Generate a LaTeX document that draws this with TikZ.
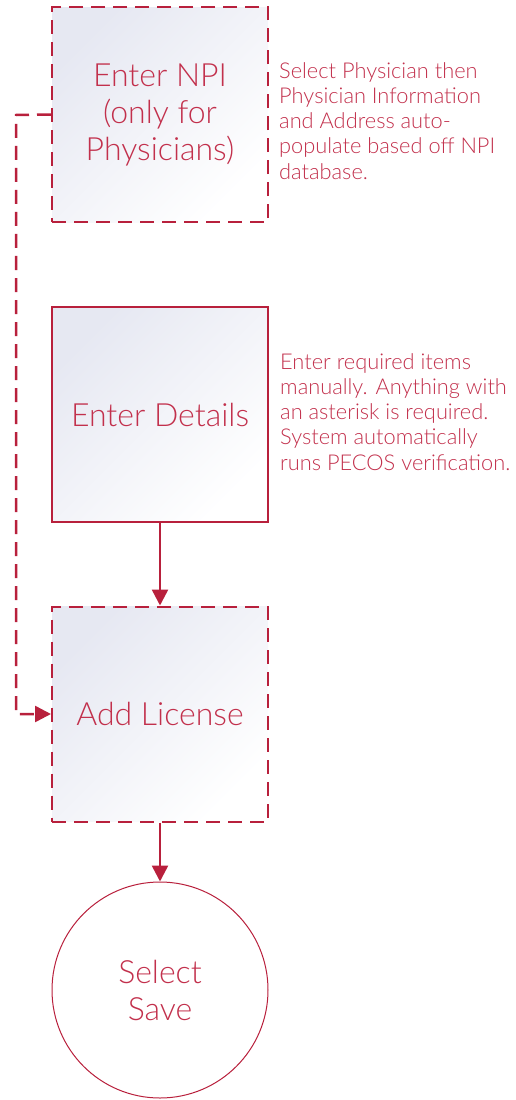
\documentclass[tikz,border=0pt]{standalone}
\usepackage{fontspec}
\setmainfont{Lato}[UprightFont=* Light]
\usetikzlibrary{arrows.meta,positioning}
\definecolor{crim}{HTML}{B8203C}
\definecolor{txt}{HTML}{C2304C}
\definecolor{lav}{HTML}{E6E8F2}
\tikzset{
  x=1pt,y=-1pt,
  stepbox/.style={draw=crim,line width=2pt,minimum width=216pt,minimum height=215pt,
    shading=axis,left color=lav,middle color=lav!25!white,right color=white,shading angle=45,
    text=txt,font=\fontsize{32}{37}\selectfont,align=center,inner sep=0pt},
  dashbox/.style={stepbox,dash pattern=on 14pt off 8pt},
  note/.style={text=txt,font=\fontsize{21.8}{25.3}\selectfont,align=left,anchor=north west,inner sep=0pt},
  conn/.style={draw=crim,line width=2.5pt,-{Triangle[length=16pt,width=16pt]}},
}
\begin{document}
\begin{tikzpicture}
\useasboundingbox (0,0) rectangle (516,1100);
\node[dashbox] (npi) at (160,114.5) {Enter NPI\\(only for\\Physicians)};
\node[stepbox] (det) at (160,414.5) {Enter Details};
\node[dashbox] (lic) at (160,714) {Add License};
\node[circle,draw=crim,line width=1pt,minimum size=216pt,inner sep=0pt,text=txt,
  font=\fontsize{32}{37}\selectfont,align=center] (save) at (160,990) {Select\\Save};
\node[note] (n1) at (279,62) {Select Physician then\\Physician Information\\and Address auto-\\populate based off NPI\\database.};
\node[note] (n2) at (280,353) {Enter required items\\manually. Anything with\\an asterisk is required.\\System automatically\\runs PECOS verification.};
\coordinate (c1) at (16,115);
\coordinate (c2) at (16,714);
\draw[conn,dash pattern=on 14pt off 8pt] (npi.west) -- (c1) -- (c2) -- (lic.west);
\draw[conn] (det.south) -- (lic.north);
\draw[conn] (lic.south) -- (save.north);
\end{tikzpicture}
\end{document}
